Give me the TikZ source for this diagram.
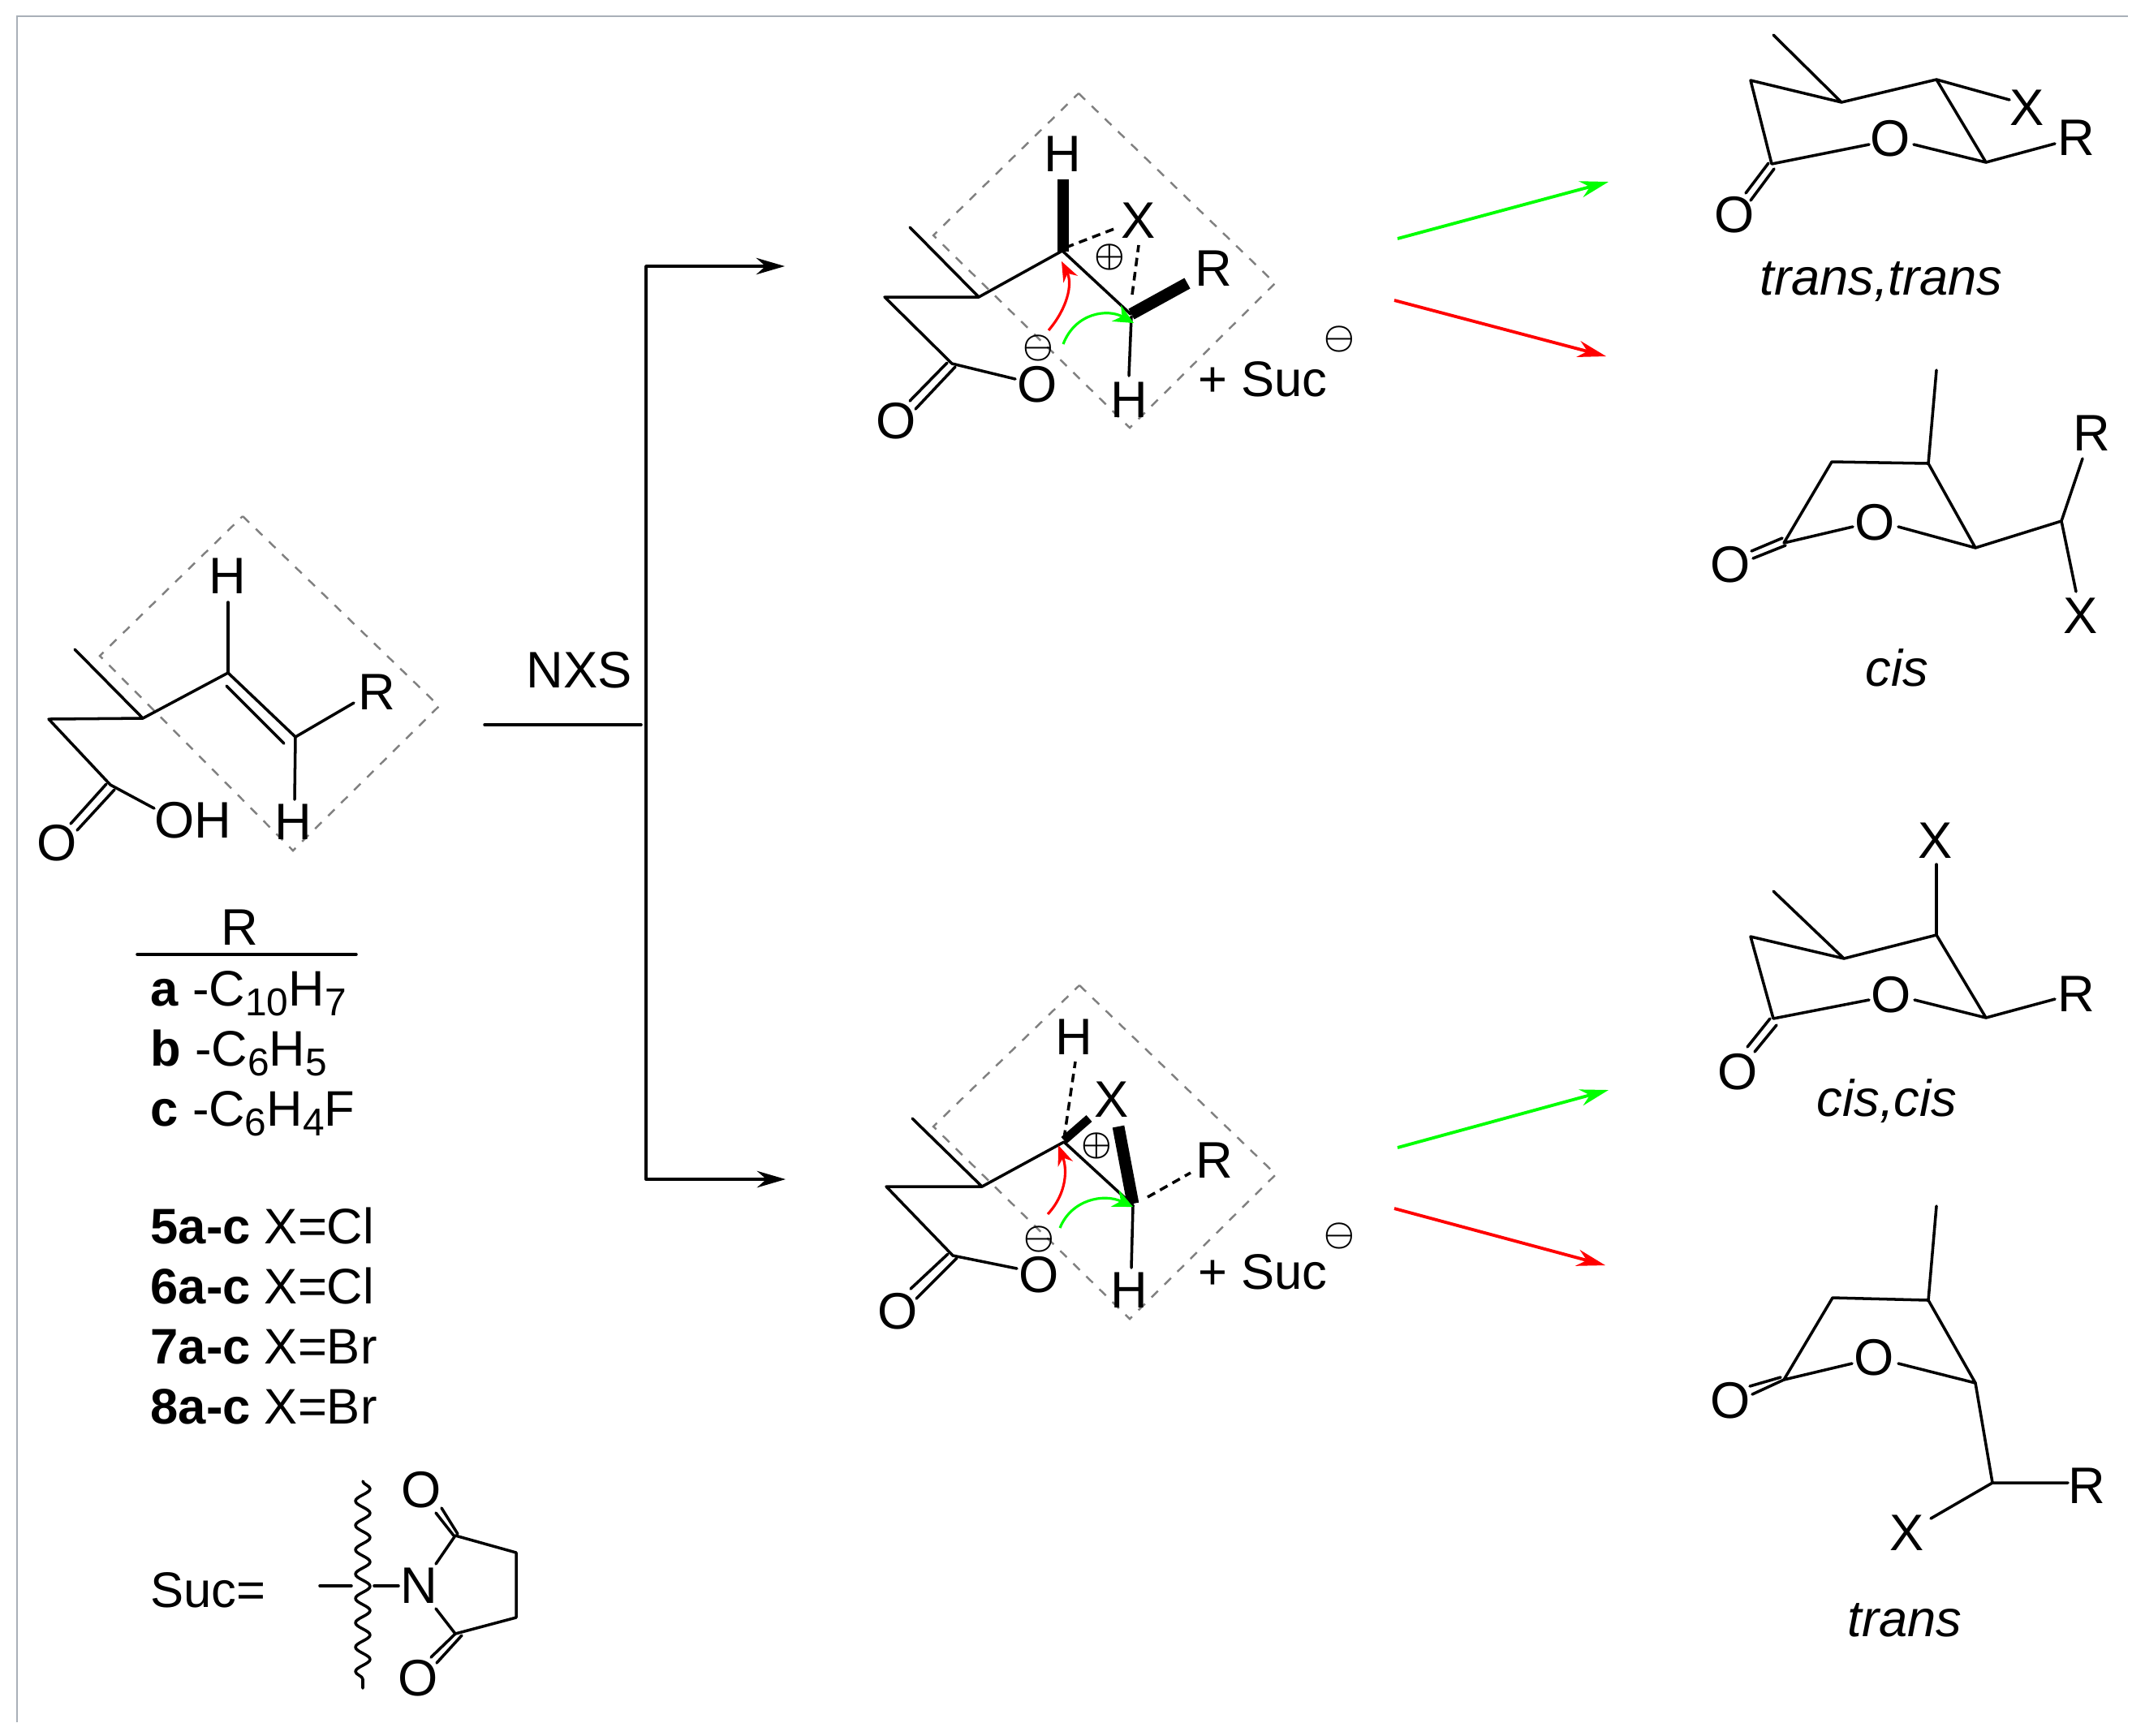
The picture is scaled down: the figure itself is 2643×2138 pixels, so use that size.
\documentclass[tikz,border=0pt]{standalone}
\usepackage{fontspec}
\setmainfont{Liberation Sans}
\usetikzlibrary{arrows.meta,decorations.pathmorphing}
\definecolor{framegray}{HTML}{A9B0B8}
\definecolor{boxgray}{HTML}{808080}
\definecolor{pathgreen}{HTML}{00FF00}
\definecolor{pathred}{HTML}{FF0000}
\newcommand{\chemsub}[1]{\raisebox{-3.6pt}{\fontsize{13.6}{14}\selectfont #1}}
\tikzset{
  atom/.style={inner sep=0pt,font=\fontsize{18}{20}\selectfont},
  rowtext/.style={inner sep=0pt,anchor=base west,font=\fontsize{17.5}{20}\selectfont},
  charge/.style={inner sep=0pt,font=\fontsize{11.5}{12}\selectfont\boldmath},
  bond/.style={line width=1pt,line cap=round,line join=round},
  wedgebond/.style={line width=4.2pt},
  dashbond/.style={line width=1pt,dash pattern=on 3pt off 2pt},
  orbitbox/.style={draw=boxgray,line width=0.7pt,dash pattern=on 3.2pt off 3.2pt},
  forkarrow/.style={line width=1.1pt,line join=round,{Stealth[length=10pt,width=5.8pt]}-{Stealth[length=10pt,width=5.8pt]}},
  greenarrow/.style={pathgreen,line width=1.1pt,-{Stealth[length=10pt,width=5.8pt]}},
  redarrow/.style={pathred,line width=1.1pt,-{Stealth[length=10pt,width=5.8pt]}},
  curlgreen/.style={pathgreen,line width=0.9pt,-{Stealth[length=7pt,width=6.5pt]}},
  curlred/.style={pathred,line width=0.9pt,-{Stealth[length=7pt,width=5.5pt]}}
}
\begin{document}
\begin{tikzpicture}[x=0.01cm,y=-0.01cm]
\useasboundingbox (0,0) rectangle (2643,2138);

% frame
\draw [framegray, line width=0.6pt] (21,2122) -- (21,20) -- (2622,20);

% starting acid
\draw [orbitbox] (299,636) -- (541,870) -- (361,1048) -- (123,808) -- cycle;
\draw [bond] (92,800) -- (176,885) -- (60,886) -- (136,967) -- (190,996);
\draw [bond] (176,885) -- (281,829) -- (364,908) -- (436,866);
\draw [bond] (279,845) -- (350,916);
\draw [bond] (281,829) -- (281,742);
\draw [bond] (364,908) -- (363,985);
\draw [bond] (131,966) -- (87,1015);
\draw [bond] (141,973) -- (95,1023);
\node [atom] (acidHa) at (280,710) {H};
\node [atom] (acidR) at (464,853) {R};
\node [atom] (acidHb) at (361,1013) {H};
\node [atom] (acidOH) at (238,1011) {OH};
\node [atom] (acidO) at (70,1039) {O};

% table
\node [atom] (tabR) at (295,1143) {R};
\draw [bond] (169,1176) -- (439,1176);
\node [rowtext] (rowa) at (185,1239) {\textbf{a} -C\chemsub{10}H\chemsub{7}};
\node [rowtext] (rowb) at (185,1313) {\textbf{b} -C\chemsub{6}H\chemsub{5}};
\node [rowtext] (rowc) at (185,1387) {\textbf{c} -C\chemsub{6}H\chemsub{4}F};
\node [rowtext] (rowfive) at (185,1532) {\textbf{5a-c} X=Cl};
\node [rowtext] (rowsix) at (185,1606) {\textbf{6a-c} X=Cl};
\node [rowtext] (rowseven) at (185,1680) {\textbf{7a-c} X=Br};
\node [rowtext] (roweight) at (185,1754) {\textbf{8a-c} X=Br};

% succinimide
\node [rowtext] (sucname) at (185,1980) {Suc=};
\node [atom] (sucN) at (516,1954) {N};
\node [atom] (sucOa) at (519,1836) {O};
\node [atom] (sucOb) at (515,2068) {O};
\draw [bond] (394,1954) -- (433,1954);
\draw [bond] (461,1954) -- (491,1954);
\draw [bond, decorate, decoration={snake,segment length=0.3cm,amplitude=0.09cm,pre length=0pt,post length=0pt}] (447,1825) -- (447,2080);
\draw [bond] (537,1927) -- (561,1892) -- (636,1913) -- (636,1993) -- (561,2013) -- (537,1982);
\draw [bond] (564,1890) -- (544,1858);
\draw [bond] (559,1892) -- (537,1864);
\draw [bond] (569,2015) -- (538,2049);
\draw [bond] (561,2013) -- (531,2042);

% NXS fork
\node [atom] (nxs) at (714,826) {NXS};
\coordinate (feed) at (597,893);
\coordinate (feedend) at (790,893);
\coordinate (forkup) at (796,328);
\coordinate (forkdown) at (796,1453);
\coordinate (intup) at (967,328);
\coordinate (intdown) at (968,1453);
\draw [bond] (feed) -- (feedend);
\draw [forkarrow] (intup) -- (forkup) -- (forkdown) -- (intdown);

% upper intermediate
\draw [orbitbox] (1329,115) -- (1571,349) -- (1392,527) -- (1150,290) -- cycle;
\draw [bond] (1121,280) -- (1206,366) -- (1090,366) -- (1173,448) -- (1251,467);
\draw [bond] (1206,366) -- (1309,309) -- (1393,387);
\draw [bond] (1167,447) -- (1121,494);
\draw [bond] (1177,452) -- (1128,504);
\draw [wedgebond] (1310,310) -- (1310,221);
\draw [wedgebond] (1394,387) -- (1463,349);
\draw [dashbond] (1313,305) -- (1378,280);
\draw [dashbond] (1395,363) -- (1403,302);
\draw [bond] (1394,390) -- (1391,463);
\node [atom] (upHa) at (1309,190) {H};
\node [atom] (upX) at (1403,272) {X};
\node [atom] (upR) at (1495,331) {R};
\node [atom] (upO) at (1278,474) {O};
\node [atom] (upOb) at (1104,519) {O};
\node [atom] (upHb) at (1391,493) {H};
\node [rowtext] (upSuc) at (1476,488) {+ Suc};
\node [charge] (upplus) at (1367,317) {$\oplus$};
\node [charge] (upminus) at (1279,429) {$\ominus$};
\node [charge] (upsucminus) at (1650,418) {$\ominus$};
\draw [curlred] (1292,407) .. controls (1315,380) and (1322,350) .. (1308,322);
\draw [curlgreen] (1310,424) .. controls (1325,385) and (1365,380) .. (1397,398);

% lower intermediate
\draw [orbitbox] (1330,1214) -- (1572,1447) -- (1392,1625) -- (1150,1388) -- cycle;
\draw [bond] (1124,1378) -- (1210,1462) -- (1092,1462) -- (1174,1547) -- (1253,1563);
\draw [bond] (1210,1462) -- (1311,1407) -- (1396,1485);
\draw [bond] (1168,1545) -- (1122,1588);
\draw [bond] (1179,1550) -- (1129,1600);
\draw [dashbond] (1311,1403) -- (1325,1308);
\draw [line width=3pt] (1311,1405) -- (1342,1378);
\draw [wedgebond] (1378,1388) -- (1396,1483);
\draw [dashbond] (1414,1475) -- (1467,1445);
\draw [bond] (1396,1485) -- (1394,1562);
\node [atom] (lowHa) at (1323,1278) {H};
\node [atom] (lowX) at (1370,1355) {X};
\node [atom] (lowR) at (1496,1430) {R};
\node [atom] (lowO) at (1280,1571) {O};
\node [atom] (lowOb) at (1106,1616) {O};
\node [atom] (lowHb) at (1391,1590) {H};
\node [rowtext] (lowSuc) at (1476,1588) {+ Suc};
\node [charge] (lowplus) at (1351,1412) {$\oplus$};
\node [charge] (lowminus) at (1280,1527) {$\ominus$};
\node [charge] (lowsucminus) at (1650,1523) {$\ominus$};
\draw [curlred] (1291,1496) .. controls (1315,1470) and (1315,1440) .. (1304,1411);
\draw [curlgreen] (1306,1513) .. controls (1320,1478) and (1360,1470) .. (1396,1487);

% arrows to products
\coordinate (greenAa) at (1722,294);
\coordinate (greenAb) at (1982,224);
\coordinate (redAa) at (1718,370);
\coordinate (redAb) at (1979,439);
\coordinate (greenBa) at (1722,1414);
\coordinate (greenBb) at (1982,1343);
\coordinate (redBa) at (1718,1489);
\coordinate (redBb) at (1978,1559);
\draw [greenarrow] (greenAa) -- (greenAb);
\draw [redarrow] (redAa) -- (redAb);
\draw [greenarrow] (greenBa) -- (greenBb);
\draw [redarrow] (redBa) -- (redBb);

% trans,trans
\draw [bond] (2185,43) -- (2269,126) -- (2157,99) -- (2183,202) -- (2303,178);
\draw [bond] (2269,126) -- (2386,98) -- (2447,200) -- (2358,178);
\draw [bond] (2386,98) -- (2476,123);
\draw [bond] (2447,200) -- (2532,177);
\draw [bond] (2179,201) -- (2151,238);
\draw [bond] (2186,208) -- (2157,247);
\node [atom] (ttO) at (2329,171) {O};
\node [atom] (ttX) at (2498,133) {X};
\node [atom] (ttR) at (2558,170) {R};
\node [atom] (ttOb) at (2137,265) {O};
\node [atom] (ttname) at (2318,347) {\textit{trans,trans}};

% cis
\draw [bond] (2386,456) -- (2376,571) -- (2257,569) -- (2198,669) -- (2283,649);
\draw [bond] (2376,571) -- (2434,675) -- (2339,649);
\draw [bond] (2434,675) -- (2540,642) -- (2566,565);
\draw [bond] (2540,642) -- (2558,729);
\draw [bond] (2196,663) -- (2158,679);
\draw [bond] (2200,672) -- (2160,688);
\node [atom] (cO) at (2310,644) {O};
\node [atom] (cR) at (2577,534) {R};
\node [atom] (cX) at (2564,759) {X};
\node [atom] (cOb) at (2132,696) {O};
\node [atom] (cname) at (2337,823) {\textit{cis}};

% cis,cis
\draw [bond] (2185,1098) -- (2272,1181) -- (2157,1154) -- (2185,1255) -- (2303,1232);
\draw [bond] (2272,1181) -- (2386,1152) -- (2447,1254) -- (2359,1232);
\draw [bond] (2386,1152) -- (2386,1065);
\draw [bond] (2447,1254) -- (2532,1231);
\draw [bond] (2181,1255) -- (2153,1290);
\draw [bond] (2189,1263) -- (2162,1296);
\node [atom] (ccO) at (2330,1226) {O};
\node [atom] (ccX) at (2385,1036) {X};
\node [atom] (ccR) at (2558,1225) {R};
\node [atom] (ccOb) at (2141,1321) {O};
\node [atom] (ccname) at (2325,1357) {\textit{cis,cis}};

% trans
\draw [bond] (2386,1486) -- (2376,1602) -- (2258,1599) -- (2198,1700) -- (2282,1680);
\draw [bond] (2376,1602) -- (2434,1704) -- (2339,1680);
\draw [bond] (2434,1704) -- (2455,1827) -- (2548,1827);
\draw [bond] (2455,1827) -- (2379,1871);
\draw [bond] (2194,1697) -- (2156,1708);
\draw [bond] (2198,1700) -- (2159,1718);
\node [atom] (trO) at (2309,1673) {O};
\node [atom] (trR) at (2571,1831) {R};
\node [atom] (trX) at (2350,1889) {X};
\node [atom] (trOb) at (2132,1726) {O};
\node [atom] (trname) at (2347,1996) {\textit{trans}};

\end{tikzpicture}
\end{document}
